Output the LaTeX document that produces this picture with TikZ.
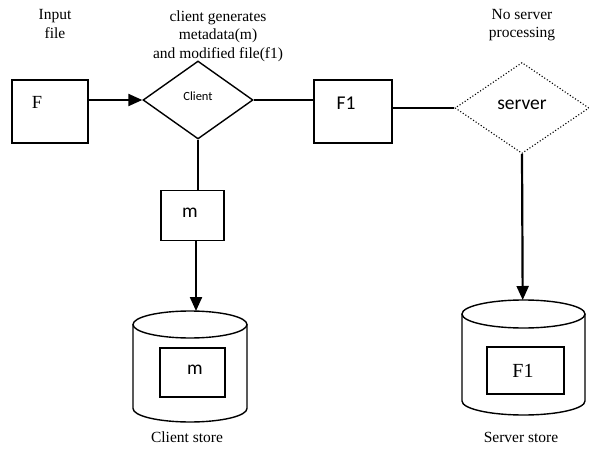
\documentclass[tikz,border=0pt]{standalone}
\usepackage{fontspec}
\setmainfont{Liberation Serif}
\newfontfamily\calibri{Carlito}
\usetikzlibrary{shapes.geometric,arrows.meta}
\tikzset{
  box/.style={draw,line width=1.4pt,rectangle,inner sep=0pt},
  lab/.style={font=\fontsize{15.5}{18.5}\selectfont,align=center,inner sep=0pt},
  sans/.style={font=\calibri\fontsize{19.5}{22}\selectfont,inner sep=0pt},
  serif/.style={font=\fontsize{18.5}{20}\selectfont,inner sep=0pt},
  conn/.style={line width=1.4pt},
  arr/.style={line width=2.2pt,-{Triangle[length=14pt,width=12pt]}},
  store/.style={line width=1.4pt},
}
\begin{document}
\begin{tikzpicture}[x=1pt,y=-1pt]
\useasboundingbox (0,0) rectangle (589,449);
% labels
\node[lab] (linput) at (55,24) {Input\\file};
\node[lab] (lclient) at (218,36) {client generates\\metadata(m)\\and modified file(f1)};
\node[lab] (lserver) at (522,25) {No server\\processing};
% F box
\node[box,minimum width=76pt,minimum height=63pt] (f) at (50,111.5) {};
\node[serif] (ftext) at (37,102.5) {F};
% client diamond
\node[draw,line width=1.4pt,diamond,minimum width=110pt,minimum height=78pt,inner sep=0pt] (client) at (198,100) {};
\node[font=\calibri\fontsize{12.5}{14}\selectfont,inner sep=0pt] (clienttext) at (198,96) {Client};
% F1 box
\node[box,minimum width=78pt,minimum height=63pt] (f1) at (353,111.5) {};
\node[sans] (f1text) at (346,103) {F1};
% server diamond
\node[draw,line width=1.1pt,dotted,diamond,minimum width=134pt,minimum height=91pt,inner sep=0pt] (server) at (522,108) {};
\node[sans] (servertext) at (522,105) {server};
% m box
\node[box,minimum width=63pt,minimum height=50pt] (m) at (192.5,215.5) {};
\node[sans] (mtext) at (190,213) {m};
% client store cylinder
\draw[store] (133,324.5) -- (133,408.5) arc[start angle=180,end angle=360,x radius=57pt,y radius=13.5pt] -- (247,324.5);
\draw[store] (190,324.5) ellipse [x radius=57pt,y radius=13.5pt];
\coordinate (cstop) at (196,311);
\node[box,line width=1.3pt,minimum width=65pt,minimum height=49pt] (cm) at (192.5,372.5) {};
\node[sans] (cmtext) at (195,370) {m};
\node[lab] (cslabel) at (187,437) {Client store};
% server store cylinder
\draw[store] (462,314) -- (462,401) arc[start angle=180,end angle=360,x radius=61.5pt,y radius=14pt] -- (585,314);
\draw[store] (523.5,314) ellipse [x radius=61.5pt,y radius=14pt];
\coordinate (sstop) at (522.7,300);
\node[box,line width=1.3pt,minimum width=77pt,minimum height=47pt] (sf1) at (525.5,370.5) {};
\node[font=\fontsize{20}{22}\selectfont,inner sep=0pt] (sf1text) at (523,371) {F1};
\node[lab] (sslabel) at (521,437) {Server store};
% connectors
\draw[arr] (f.east |- client.west) -- (client.west);
\draw[conn] (client.east) -- (client.east -| f1.west);
\draw[conn] (f1.east |- server.west) -- (server.west);
\draw[conn] (client.south) -- (client.south |- m.north);
\draw[arr] (m.south -| cstop) -- (cstop);
\draw[arr] (server.south) -- (sstop);
\end{tikzpicture}
\end{document}
